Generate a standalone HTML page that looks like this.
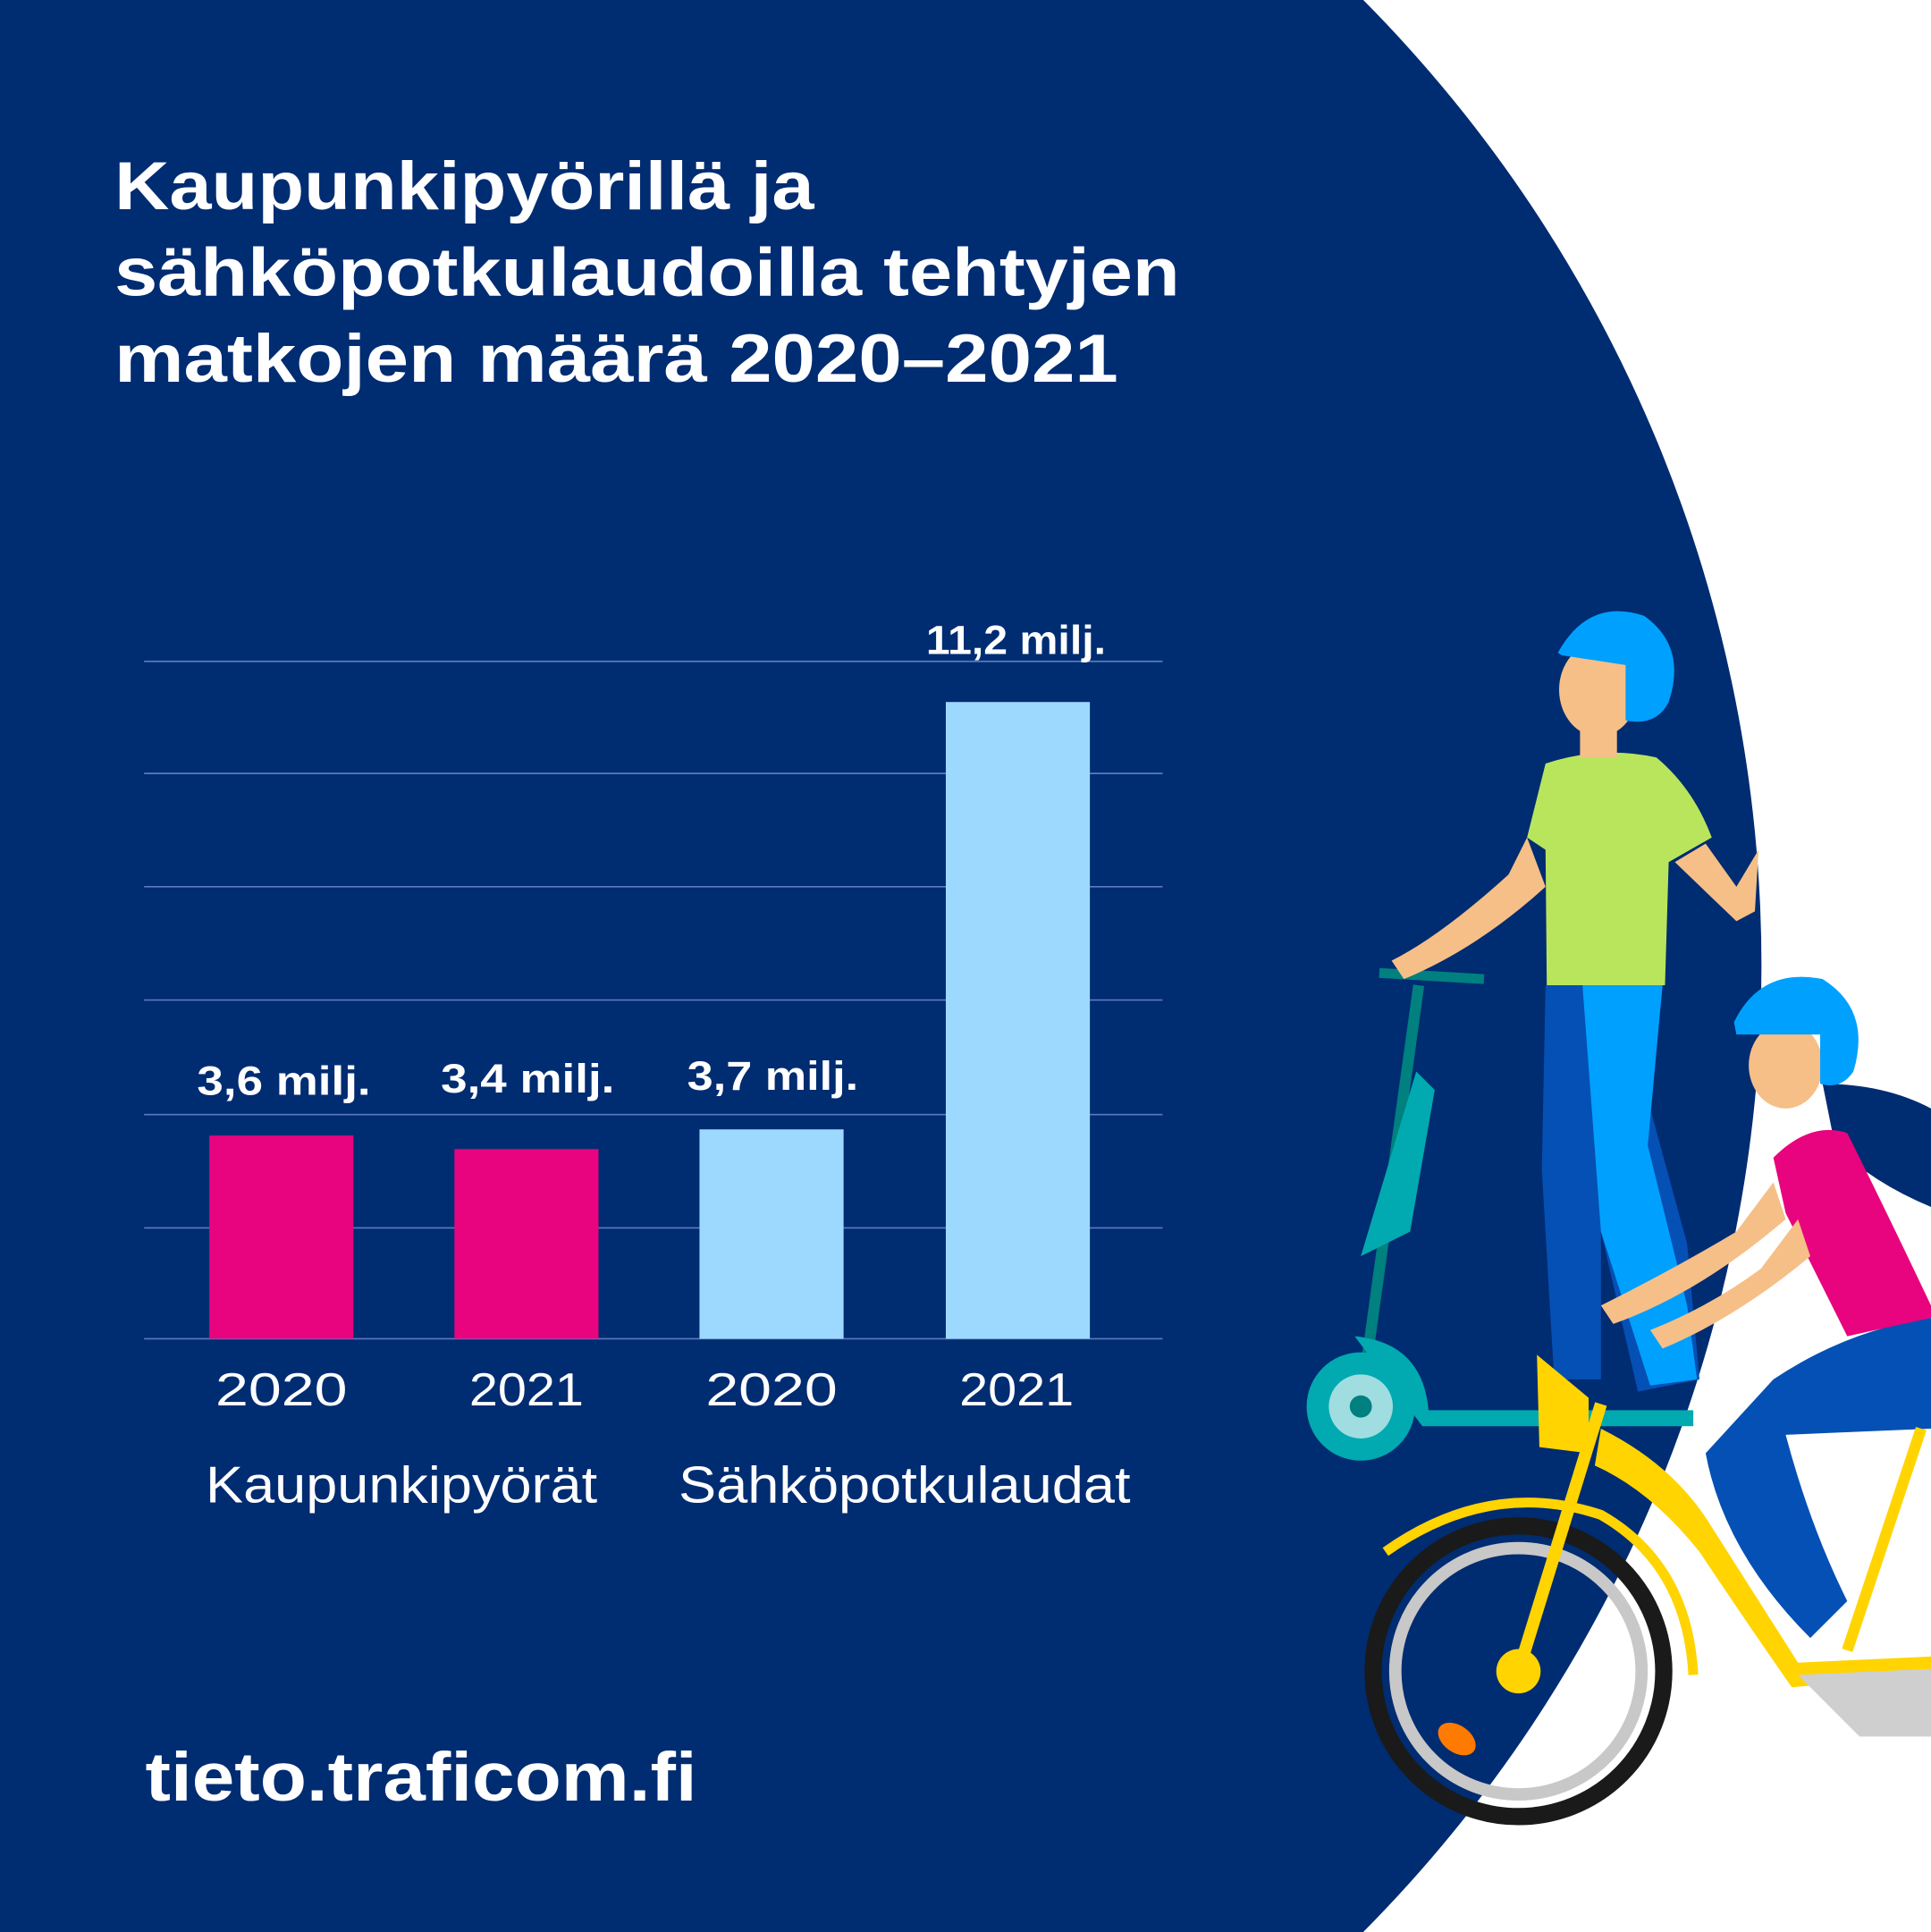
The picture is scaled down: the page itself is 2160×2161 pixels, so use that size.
<!DOCTYPE html>
<html><head><meta charset="utf-8"><style>
html,body{margin:0;padding:0;background:#fff;}
svg{display:block;}
</style></head><body>
<svg width="2160" height="2161" viewBox="0 0 1568 1568.7" xmlns="http://www.w3.org/2000/svg">
<rect width="1568" height="1569" fill="#fff"/>
<path d="M0 0 H1107 A1113 1113 0 0 1 1107 1568.7 H0 Z" fill="#002c72"/>
<g font-family="Liberation Sans, sans-serif" fill="#fff">
<text x="93" y="170" font-size="55" font-weight="bold" textLength="568" lengthAdjust="spacingAndGlyphs">Kaupunkipyörillä ja</text>
<text x="93" y="240" font-size="55" font-weight="bold" textLength="865" lengthAdjust="spacingAndGlyphs">sähköpotkulaudoilla tehtyjen</text>
<text x="93" y="310" font-size="55" font-weight="bold" textLength="815" lengthAdjust="spacingAndGlyphs">matkojen määrä 2020–2021</text>
<text x="118" y="1462" font-size="56" font-weight="bold" textLength="448" lengthAdjust="spacingAndGlyphs">tieto.traficom.fi</text>
</g>
<g stroke="#5a7bbd" stroke-width="1.2">
<line x1="117" x2="944" y1="537" y2="537"/><line x1="117" x2="944" y1="628" y2="628"/>
<line x1="117" x2="944" y1="720" y2="720"/><line x1="117" x2="944" y1="812" y2="812"/>
<line x1="117" x2="944" y1="905" y2="905"/><line x1="117" x2="944" y1="997" y2="997"/>
<line x1="117" x2="944" y1="1087" y2="1087"/>
</g>
<rect x="170" y="922" width="117" height="165" fill="#e8047e"/>
<rect x="369" y="933" width="117" height="154" fill="#e8047e"/>
<rect x="568" y="917" width="117" height="170" fill="#9dd9ff"/>
<rect x="768" y="570" width="117" height="517" fill="#9dd9ff"/>
<g font-family="Liberation Sans, sans-serif" fill="#fff">
<g font-size="33" font-weight="bold">
<text x="160" y="889" textLength="141" lengthAdjust="spacingAndGlyphs">3,6 milj.</text>
<text x="358" y="887" textLength="141" lengthAdjust="spacingAndGlyphs">3,4 milj.</text>
<text x="558" y="885" textLength="139" lengthAdjust="spacingAndGlyphs">3,7 milj.</text>
<text x="752" y="531" textLength="146" lengthAdjust="spacingAndGlyphs">11,2 milj.</text>
</g>
<g font-size="38">
<text x="175" y="1141" textLength="107" lengthAdjust="spacingAndGlyphs">2020</text>
<text x="381" y="1141" textLength="93" lengthAdjust="spacingAndGlyphs">2021</text>
<text x="573" y="1141" textLength="107" lengthAdjust="spacingAndGlyphs">2020</text>
<text x="779" y="1141" textLength="93" lengthAdjust="spacingAndGlyphs">2021</text>
</g>
<g font-size="42">
<text x="167" y="1220" textLength="318" lengthAdjust="spacingAndGlyphs">Kaupunkipyörät</text>
<text x="551" y="1220" textLength="367" lengthAdjust="spacingAndGlyphs">Sähköpotkulaudat</text>
</g>
</g>
<!-- scooter -->
<g>
<line x1="1105" y1="1140" x2="1152" y2="800" stroke="#00807f" stroke-width="9"/>
<path d="M1105 1020 L1145 1000 L1165 885 L1150 870 Z" fill="#00aab0"/>
<line x1="1120" y1="790" x2="1205" y2="795" stroke="#00807f" stroke-width="8"/>
<path d="M1100 1085 Q1155 1090 1160 1145 L1375 1145 L1375 1158 L1155 1158" fill="#00aab0"/>
<circle cx="1105" cy="1142" r="44" fill="#00aab0"/><circle cx="1105" cy="1142" r="26" fill="#9fdde0"/>
<circle cx="1105" cy="1142" r="9" fill="#00807f"/>
</g>
<!-- person 1 -->
<g>
<path d="M1255 800 L1350 800 L1340 900 L1370 1010 L1380 1120 L1330 1130 L1300 1000 L1300 1120 L1262 1120 L1252 950 Z" fill="#0550b4"/>
<path d="M1285 800 L1350 800 L1338 930 L1370 1060 L1378 1120 L1340 1125 L1300 1000 Z" fill="#00a0ff"/>
<path d="M1255 620 Q1300 605 1345 615 Q1375 640 1390 680 L1355 700 L1352 800 L1256 800 L1255 690 L1240 680 Z" fill="#b9e55d"/>
<path d="M1240 680 L1225 710 Q1170 760 1130 780 L1140 795 Q1200 770 1255 720 Z" fill="#f5bf87"/>
<path d="M1385 685 L1410 720 L1428 690 L1425 740 L1410 748 L1360 700 Z" fill="#f5bf87"/>
<rect x="1283" y="575" width="30" height="40" fill="#f5bf87"/>
<ellipse cx="1298" cy="560" rx="32" ry="38" fill="#f5bf87"/>
<path d="M1265 530 Q1290 485 1335 500 Q1370 525 1355 570 Q1345 590 1320 585 L1320 540 L1268 532 Z" fill="#00a0ff"/>
</g>
<path d="M1480 880 Q1530 880 1568 900 L1568 980 Q1520 960 1490 930 Z" fill="#002c72"/>
<g>
<path d="M1440 1120 Q1500 1080 1568 1070 L1568 1160 L1450 1165 Q1470 1240 1500 1300 L1470 1330 Q1400 1260 1385 1180 Z" fill="#0550b4"/>
<path d="M1440 940 Q1470 910 1500 920 Q1530 980 1568 1060 L1568 1070 L1500 1085 L1450 985 Z" fill="#e8047e"/>
<path d="M1440 960 L1410 1000 Q1360 1030 1300 1060 L1310 1075 Q1380 1050 1450 990 Z" fill="#f5bf87"/>
<path d="M1460 990 L1430 1030 Q1390 1060 1340 1080 L1350 1095 Q1410 1070 1470 1020 Z" fill="#f5bf87"/>
<ellipse cx="1450" cy="865" rx="30" ry="35" fill="#f5bf87"/>
<path d="M1408 830 Q1430 785 1480 795 Q1520 820 1505 870 Q1495 885 1478 880 L1478 840 L1410 840 Z" fill="#00a0ff"/>
</g>
<g>
<circle cx="1233" cy="1357" r="118" fill="none" stroke="#1a1a1a" stroke-width="14"/>
<circle cx="1233" cy="1357" r="100" fill="none" stroke="#c8c8c8" stroke-width="10"/>
<path d="M1125 1260 Q1210 1200 1300 1230 Q1370 1270 1375 1360" fill="none" stroke="#ffd400" stroke-width="8"/>
<line x1="1233" y1="1357" x2="1300" y2="1140" stroke="#ffd400" stroke-width="10"/>
<path d="M1300 1160 Q1360 1190 1390 1240 L1460 1350 L1568 1345 L1568 1360 L1455 1370 Q1420 1320 1380 1260 Q1340 1210 1295 1190 Z" fill="#ffd400"/>
<line x1="1500" y1="1340" x2="1560" y2="1160" stroke="#ffd400" stroke-width="9"/>
<path d="M1460 1360 L1568 1355 L1568 1410 L1510 1410 Z" fill="#cfcfcf"/>
<path d="M1248 1100 L1290 1135 L1290 1180 L1250 1175 Z" fill="#ffd400"/>
<circle cx="1233" cy="1357" r="18" fill="#ffd400"/>
<ellipse cx="1183" cy="1412" rx="17" ry="11" fill="#ff7a00" transform="rotate(35 1183 1412)"/>
</g>
</svg>
</body></html>
